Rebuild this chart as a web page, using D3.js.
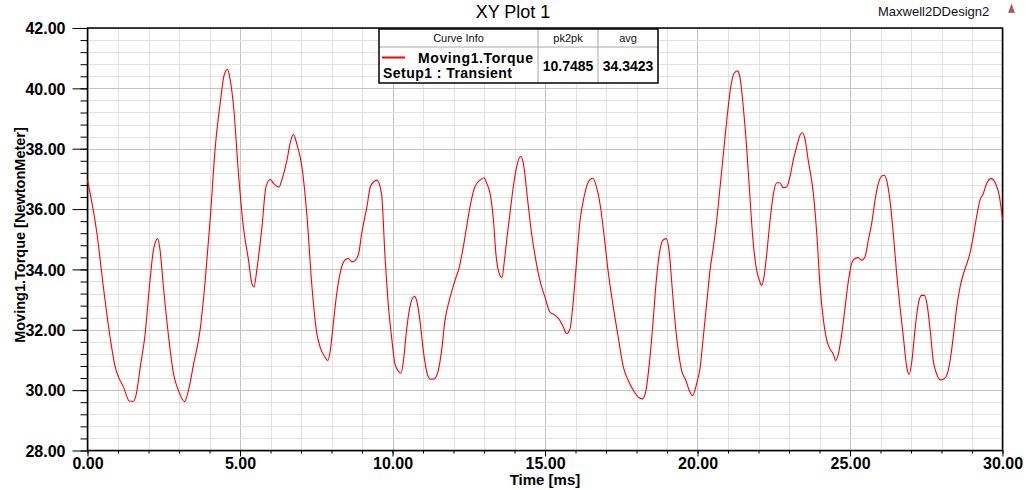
<!DOCTYPE html>
<html>
<head>
<meta charset="utf-8">
<script src="https://cdn.jsdelivr.net/npm/d3@7"></script>
<style>
  html, body { margin: 0; padding: 0; background: #fff; }
  svg { display: block; font-family: "Liberation Sans", Arial, sans-serif; }
</style>
</head>
<body>
<svg id="chart" width="1031" height="490"></svg>
<script>
// ---- data ----
const timeMs = [
  0.00,0.31,0.52,0.74,0.91,1.02,1.18,1.38,1.51,1.60,1.73,1.89,2.05,2.16,2.30,2.38,2.49,2.66,2.82,2.98,
  3.18,3.31,3.48,3.69,3.86,4.02,4.19,4.35,4.48,4.59,4.68,4.79,4.95,5.11,5.28,5.39,5.46,5.55,5.72,5.85,
  5.99,6.10,6.28,6.37,6.54,6.64,6.75,6.86,7.03,7.19,7.36,7.52,7.63,7.79,7.88,7.96,8.07,8.17,8.28,8.45,
  8.56,8.67,8.78,8.89,8.99,9.16,9.27,9.38,9.49,9.64,9.75,9.86,9.97,10.08,10.19,10.28,10.36,10.46,10.57,10.72,
  10.79,10.90,11.01,11.14,11.25,11.36,11.50,11.61,11.72,11.89,12.05,12.19,12.32,12.43,12.54,12.70,12.87,13.00,13.09,13.20,
  13.31,13.39,13.50,13.59,13.67,13.77,13.85,13.96,14.07,14.20,14.31,14.42,14.56,14.70,14.86,15.00,15.16,15.33,15.49,15.60,
  15.71,15.82,15.91,16.02,16.15,16.28,16.42,16.56,16.69,16.82,16.93,17.08,17.24,17.40,17.57,17.73,17.90,18.06,18.20,18.31,
  18.42,18.53,18.64,18.75,18.86,18.97,19.08,19.15,19.26,19.37,19.48,19.62,19.73,19.84,19.97,20.08,20.19,20.30,20.41,20.52,
  20.63,20.74,20.85,20.96,21.09,21.20,21.31,21.39,21.50,21.61,21.72,21.81,21.94,22.03,22.10,22.18,22.27,22.38,22.49,22.60,
  22.70,22.81,22.92,23.03,23.14,23.25,23.36,23.44,23.52,23.63,23.80,23.91,24.02,24.13,24.24,24.34,24.45,24.53,24.62,24.73,
  24.84,24.95,25.05,25.16,25.27,25.38,25.49,25.60,25.71,25.82,25.93,26.04,26.12,26.20,26.31,26.42,26.53,26.64,26.75,26.86,
  26.94,27.03,27.14,27.24,27.35,27.44,27.54,27.63,27.73,27.84,27.97,28.08,28.19,28.30,28.41,28.50,28.61,28.72,28.83,28.93,
  29.04,29.15,29.26,29.37,29.48,29.63,29.77,29.88,29.95,30.00
];
const torque = [
  36.96,35.19,33.42,31.76,30.76,30.43,30.10,29.63,29.63,29.88,30.76,31.87,33.64,34.63,35.02,34.63,33.42,31.76,30.54,29.99,
  29.62,29.99,30.87,31.98,33.64,35.63,38.06,39.50,40.44,40.63,40.27,39.39,37.18,35.41,34.30,33.53,33.42,33.97,35.41,36.73,
  36.98,36.85,36.73,36.96,37.62,38.17,38.47,38.17,37.40,35.85,33.42,31.87,31.42,31.09,30.98,31.31,32.31,33.19,33.86,34.32,
  34.36,34.25,34.30,34.52,35.19,36.07,36.73,36.90,36.96,36.51,34.52,32.86,31.76,30.87,30.63,30.56,30.98,31.98,32.75,33.11,
  32.97,32.31,31.31,30.54,30.36,30.37,30.65,31.31,32.31,33.08,33.64,34.08,34.74,35.41,36.07,36.73,36.96,37.04,36.85,36.51,
  35.63,34.52,33.86,33.73,34.30,35.19,35.85,36.73,37.40,37.75,37.40,36.40,35.19,34.30,33.53,33.08,32.59,32.48,32.31,32.09,
  31.87,32.03,32.75,34.08,35.63,36.40,36.90,37.02,36.73,36.07,35.19,33.86,32.75,31.76,30.76,30.32,29.99,29.77,29.71,29.99,
  30.87,32.09,33.53,34.52,34.96,35.02,34.52,33.64,32.31,31.31,30.65,30.32,29.99,29.82,30.21,30.70,31.76,32.86,33.97,34.74,
  35.63,36.73,37.84,38.95,40.05,40.50,40.58,40.38,39.39,38.06,36.40,35.08,33.97,33.64,33.47,33.75,34.52,35.63,36.51,36.87,
  36.87,36.71,36.73,37.07,37.62,38.06,38.45,38.53,38.34,37.62,36.51,35.19,33.42,32.31,31.65,31.37,31.20,30.98,31.20,31.87,
  32.75,33.64,34.19,34.36,34.39,34.30,34.41,34.96,35.52,36.29,36.85,37.09,37.12,36.96,36.29,35.19,33.86,32.75,31.76,30.76,
  30.52,30.98,32.09,32.86,33.14,33.14,32.75,31.98,30.98,30.54,30.34,30.37,30.54,31.09,31.98,32.75,33.42,33.86,34.19,34.52,
  35.08,35.74,36.29,36.51,36.85,37.01,36.85,36.51,36.07,35.65
];
const xTicks = [0, 5, 10, 15, 20, 25, 30];
const yTicks = [28, 30, 32, 34, 36, 38, 40, 42];
const legendHeaders = ["Curve Info", "pk2pk", "avg"];
const legendCurveName = ["Moving1.Torque", "Setup1 : Transient"];
const legendStats = ["10.7485", "34.3423"];
const titleText = "XY Plot 1";
const designText = "Maxwell2DDesign2";
const xLabel = "Time [ms]";
const yLabel = "Moving1.Torque [NewtonMeter]";

// ---- layout ----
const svg = d3.select("#chart");
const L = 87.5, R = 1002.5, T = 28, B = 450.5;
const x = d3.scaleLinear().domain([0, 30]).range([L, R]);
const y = d3.scaleLinear().domain([28, 42]).range([B, T]);

// gridlines
const xMinor = d3.range(0, 30.001, 1);
const yMinor = d3.range(28, 42.001, 0.4);
const grid = svg.append("g");
grid.selectAll(".vx").data(xMinor).join("line")
  .attr("x1", d => Math.round(x(d)) + 0.5).attr("x2", d => Math.round(x(d)) + 0.5)
  .attr("y1", T).attr("y2", B)
  .attr("stroke", d => (Math.abs(d % 5) < 1e-6) ? "#c4c4c4" : "#e2e2e2").attr("stroke-width", 1);
grid.selectAll(".hy").data(yMinor).join("line")
  .attr("y1", d => Math.round(y(d)) + 0.5).attr("y2", d => Math.round(y(d)) + 0.5)
  .attr("x1", L).attr("x2", R)
  .attr("stroke", d => (Math.abs(Math.round(d * 10) % 20) < 1e-6) ? "#c4c4c4" : "#e2e2e2").attr("stroke-width", 1);

// axes
const yAxisMinor = d3.axisLeft(y).tickValues(yMinor).tickSize(7).tickFormat("");
const yAxisMajor = d3.axisLeft(y).tickValues(yTicks).tickSize(15).tickPadding(7).tickFormat(d3.format(".2f"));
const xAxisMinor = d3.axisBottom(x).tickValues(xMinor).tickSize(3).tickFormat("");
const xAxisMajor = d3.axisBottom(x).tickValues(xTicks).tickSize(6).tickPadding(1).tickFormat(d3.format(".2f"));

function styleAxis(g) {
  g.select(".domain").remove();
  g.selectAll("line").attr("stroke", "#000");
  g.selectAll("text").attr("fill", "#000").attr("font-weight", "bold").attr("font-size", "16px")
    .attr("font-family", "'Liberation Sans', Arial, sans-serif");
}
svg.append("g").attr("transform", `translate(${L},0)`).call(yAxisMinor).call(styleAxis);
svg.append("g").attr("transform", `translate(${L},0)`).call(yAxisMajor).call(styleAxis)
  .selectAll("text").attr("dx", "0").attr("dy", "0.36em");
svg.append("g").attr("transform", `translate(0,${B})`).call(xAxisMinor).call(styleAxis);
svg.append("g").attr("transform", `translate(0,${B})`).call(xAxisMajor).call(styleAxis);

// frame
svg.append("rect").attr("x", L).attr("y", T).attr("width", R - L).attr("height", B - T)
  .attr("fill", "none").attr("stroke", "#000").attr("stroke-width", 1.5);

// curve
const line = d3.line().x((d, i) => x(timeMs[i])).y(d => y(d)).curve(d3.curveMonotoneX);
svg.append("path").datum(torque).attr("d", line)
  .attr("fill", "none").attr("stroke", "#ff0000").attr("stroke-width", 1.1);

// title and design name
svg.append("text").attr("x", 513).attr("y", 18).attr("text-anchor", "middle")
  .attr("font-size", "18px").attr("fill", "#000").text(titleText);
svg.append("text").attr("x", 878).attr("y", 15.5)
  .attr("font-size", "13px").attr("fill", "#101020").text(designText);
// small icon
const icon = svg.append("g").attr("transform", "translate(1008,3)");
icon.append("path").attr("d", "M0,10 L3.5,0 L7,10 Z").attr("fill", "#8a8a8a");
icon.append("path").attr("d", "M1.5,9 L3,6 M3,9 L4.5,6 M4.5,9 L5.6,7 M2.5,6 L4,3").attr("stroke", "#e02020").attr("stroke-width", 0.9);

// axis labels
svg.append("text").attr("x", 545).attr("y", 485).attr("text-anchor", "middle")
  .attr("font-size", "15px").attr("font-weight", "bold").text(xLabel);
svg.append("text").attr("transform", "translate(20,235) rotate(-90)").attr("text-anchor", "middle")
  .attr("dominant-baseline", "central").attr("font-size", "14.5px").attr("font-weight", "bold").text(yLabel);

// legend table
const lg = svg.append("g");
const tx0 = 379, tx1 = 538, tx2 = 598, tx3 = 658, ty0 = 29, ty1 = 47, ty2 = 83;
lg.append("rect").attr("x", tx0).attr("y", ty0).attr("width", tx3 - tx0).attr("height", ty2 - ty0)
  .attr("fill", "#fff").attr("stroke", "none");
[[tx0, ty1, tx3, ty1], [tx1, ty0, tx1, ty2], [tx2, ty0, tx2, ty2]].forEach(s => {
  lg.append("line").attr("x1", s[0]).attr("y1", s[1]).attr("x2", s[2]).attr("y2", s[3])
    .attr("stroke", "#a8a8a8").attr("stroke-width", 1);
});
lg.append("rect").attr("x", tx0).attr("y", ty0).attr("width", tx3 - tx0).attr("height", ty2 - ty0)
  .attr("fill", "none").attr("stroke", "#000").attr("stroke-width", 1.5);
const hx = [(tx0 + tx1) / 2, (tx1 + tx2) / 2, (tx2 + tx3) / 2];
lg.selectAll(".hdr").data(legendHeaders).join("text")
  .attr("x", (d, i) => hx[i]).attr("y", 42).attr("text-anchor", "middle")
  .attr("font-size", "11px").attr("fill", "#101020").text(d => d);
lg.append("line").attr("x1", 382).attr("x2", 405).attr("y1", 57.5).attr("y2", 57.5)
  .attr("stroke", "#ff0000").attr("stroke-width", 2);
lg.append("text").attr("x", 418).attr("y", 62.5).attr("font-size", "14px").attr("font-weight", "bold")
  .attr("textLength", 115).text(legendCurveName[0]);
lg.append("text").attr("x", 383).attr("y", 77.5).attr("font-size", "14px").attr("font-weight", "bold")
  .attr("textLength", 129).text(legendCurveName[1]);
lg.selectAll(".st").data(legendStats).join("text")
  .attr("x", (d, i) => hx[i + 1]).attr("y", 70.5).attr("text-anchor", "middle")
  .attr("font-size", "14px").attr("font-weight", "bold").text(d => d);
</script>
</body>
</html>
